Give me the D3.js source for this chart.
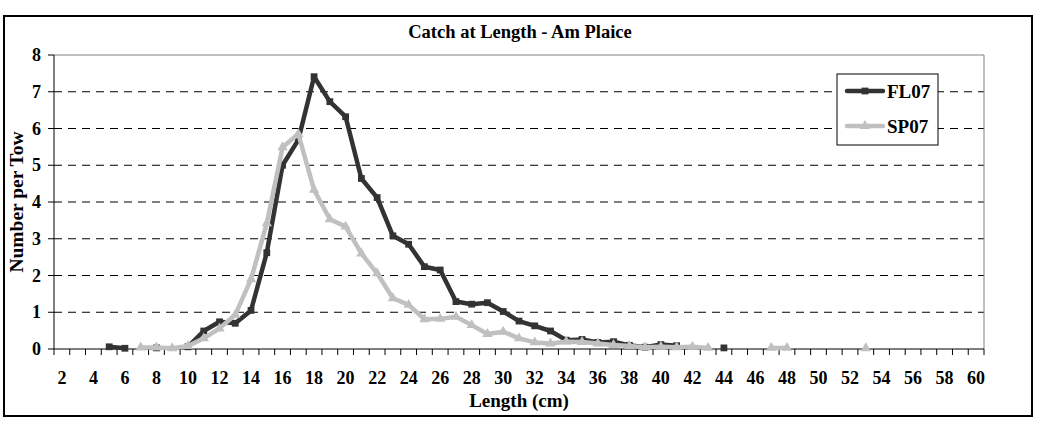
<!DOCTYPE html>
<html>
<head>
<meta charset="utf-8">
<script src="https://cdn.jsdelivr.net/npm/d3@7"></script>
<style>
  body { margin: 0; background: #fff; }
  text { font-family: "Liberation Serif", "Times New Roman", serif; font-weight: bold; fill: #000; }
</style>
</head>
<body>
<svg id="chart" width="1037" height="423"></svg>
<script>
// length classes (cm)
const lengths = [2, 3, 4, 5, 6, 7, 8, 9, 10, 11, 12, 13, 14, 15, 16, 17, 18, 19, 20, 21,
  22, 23, 24, 25, 26, 27, 28, 29, 30, 31, 32, 33, 34, 35, 36, 37, 38, 39, 40, 41,
  42, 43, 44, 45, 46, 47, 48, 49, 50, 51, 52, 53, 54, 55, 56, 57, 58, 59, 60];

// number per tow, null = no catch recorded
const fl07 = [null, null, null, 0.06, 0.02, null, 0.03, null, 0.06, 0.49, 0.74, 0.70, 1.05, 2.62, 5.00, 5.69, 7.41, 6.73, 6.32, 4.64,
  4.12, 3.08, 2.85, 2.24, 2.15, 1.29, 1.22, 1.26, 1.02, 0.76, 0.63, 0.49, 0.24, 0.26, 0.18, 0.20, 0.10, 0.05, 0.12, 0.09,
  null, null, 0.03, null, null, null, null, null, null, null, null, null, null, null, null, null, null, null, null];

const sp07 = [null, null, null, null, null, 0.04, 0.04, 0.02, 0.08, 0.29, 0.56, 0.93, 1.90, 3.42, 5.49, 5.85, 4.33, 3.53, 3.33, 2.60,
  2.06, 1.38, 1.20, 0.81, 0.82, 0.88, 0.65, 0.41, 0.47, 0.29, 0.18, 0.15, 0.20, 0.19, 0.15, 0.11, 0.08, 0.05, 0.06, 0.05,
  0.06, 0.03, null, null, null, 0.03, 0.03, null, null, null, null, 0.02, null, null, null, null, null, null, null];

const yTicks = [0, 1, 2, 3, 4, 5, 6, 7, 8];
const xLabels = [2, 4, 6, 8, 10, 12, 14, 16, 18, 20, 22, 24, 26, 28, 30, 32, 34, 36, 38, 40,
  42, 44, 46, 48, 50, 52, 54, 56, 58, 60];

const series = [
  { name: "FL07", values: fl07, color: "#333333", marker: d3.symbolSquare },
  { name: "SP07", values: sp07, color: "#c0c0c0", marker: d3.symbolTriangle }
];

const plot = { left: 54, top: 55, right: 984, bottom: 349 };

const svg = d3.select("#chart");

// outer frame
svg.append("rect")
  .attr("x", 4).attr("y", 16)
  .attr("width", 1028).attr("height", 400)
  .attr("fill", "#fff")
  .attr("stroke", "#000")
  .attr("stroke-width", 2);

const x = d3.scaleBand()
  .domain(lengths)
  .range([plot.left, plot.right])
  .padding(0);

const y = d3.scaleLinear()
  .domain([0, 8])
  .range([plot.bottom, plot.top]);

// grid lines
svg.selectAll(".grid")
  .data(yTicks.filter(d => d > 0 && d < 8))
  .enter()
  .append("line")
  .attr("class", "grid")
  .attr("x1", plot.left).attr("x2", plot.right)
  .attr("y1", d => y(d)).attr("y2", d => y(d))
  .attr("stroke", "#000")
  .attr("stroke-width", 1)
  .attr("stroke-dasharray", "8,6");

// top and right border of plot area
svg.append("path")
  .attr("d", `M${plot.left},${y(8)}H${plot.right}V${plot.bottom}`)
  .attr("fill", "none")
  .attr("stroke", "#808080")
  .attr("stroke-width", 1);

// y axis
svg.append("line")
  .attr("x1", plot.left).attr("x2", plot.left)
  .attr("y1", plot.top).attr("y2", plot.bottom)
  .attr("stroke", "#000");

svg.selectAll(".ytick")
  .data(yTicks)
  .enter()
  .append("line")
  .attr("class", "ytick")
  .attr("x1", plot.left - 6).attr("x2", plot.left)
  .attr("y1", d => y(d)).attr("y2", d => y(d))
  .attr("stroke", "#000");

svg.selectAll(".ylabel")
  .data(yTicks)
  .enter()
  .append("text")
  .attr("class", "ylabel")
  .attr("x", 41)
  .attr("y", d => y(d) + 6)
  .attr("text-anchor", "end")
  .style("font-size", "18px")
  .text(d => d);

// x axis
svg.append("line")
  .attr("x1", plot.left).attr("x2", plot.right)
  .attr("y1", plot.bottom).attr("y2", plot.bottom)
  .attr("stroke", "#000");

svg.selectAll(".xtick")
  .data(lengths.concat(["end"]))
  .enter()
  .append("line")
  .attr("class", "xtick")
  .attr("x1", d => d === "end" ? plot.right : x(d))
  .attr("x2", d => d === "end" ? plot.right : x(d))
  .attr("y1", plot.bottom).attr("y2", plot.bottom + 6)
  .attr("stroke", "#000");

svg.selectAll(".xlabel")
  .data(xLabels)
  .enter()
  .append("text")
  .attr("class", "xlabel")
  .attr("x", d => x(d) + x.bandwidth() / 2)
  .attr("y", 384)
  .attr("text-anchor", "middle")
  .style("font-size", "18px")
  .text(d => d);

// axis titles + chart title
svg.append("text")
  .attr("x", (plot.left + plot.right) / 2)
  .attr("y", 407)
  .attr("text-anchor", "middle")
  .style("font-size", "19px")
  .text("Length (cm)");

svg.append("text")
  .attr("transform", `translate(23,${(plot.top + plot.bottom) / 2}) rotate(-90)`)
  .attr("text-anchor", "middle")
  .style("font-size", "19.5px")
  .text("Number per Tow");

svg.append("text")
  .attr("x", 520)
  .attr("y", 38)
  .attr("text-anchor", "middle")
  .style("font-size", "18.5px")
  .text("Catch at Length - Am Plaice");

// series lines and markers
const line = d3.line()
  .defined(d => d.v !== null)
  .x(d => x(d.len) + x.bandwidth() / 2)
  .y(d => y(d.v));

series.forEach(s => {
  const pts = lengths.map((len, i) => ({ len: len, v: s.values[i] }));

  svg.append("path")
    .datum(pts)
    .attr("fill", "none")
    .attr("stroke", s.color)
    .attr("stroke-width", 4.5)
    .attr("stroke-linejoin", "round")
    .attr("d", line);

  svg.selectAll(".mk-" + s.name)
    .data(pts.filter(d => d.v !== null))
    .enter()
    .append("path")
    .attr("class", "mk-" + s.name)
    .attr("transform", d => `translate(${x(d.len) + x.bandwidth() / 2},${y(d.v)})`)
    .attr("d", d3.symbol().type(s.marker).size(46))
    .attr("fill", s.color);
});

// legend
const legend = svg.append("g").attr("transform", "translate(837,74)");
legend.append("rect")
  .attr("width", 101).attr("height", 71)
  .attr("fill", "#fff")
  .attr("stroke", "#000")
  .attr("stroke-width", 1);

series.forEach((s, i) => {
  const ly = 17 + i * 35;
  legend.append("line")
    .attr("x1", 10).attr("x2", 46)
    .attr("y1", ly).attr("y2", ly)
    .attr("stroke", s.color)
    .attr("stroke-width", 4.5)
    .attr("stroke-linecap", "round");
  legend.append("path")
    .attr("transform", `translate(28,${ly})`)
    .attr("d", d3.symbol().type(s.marker).size(46))
    .attr("fill", s.color);
  legend.append("text")
    .attr("x", 50)
    .attr("y", ly + 7)
    .style("font-size", "19px")
    .text(s.name);
});
</script>
</body>
</html>
